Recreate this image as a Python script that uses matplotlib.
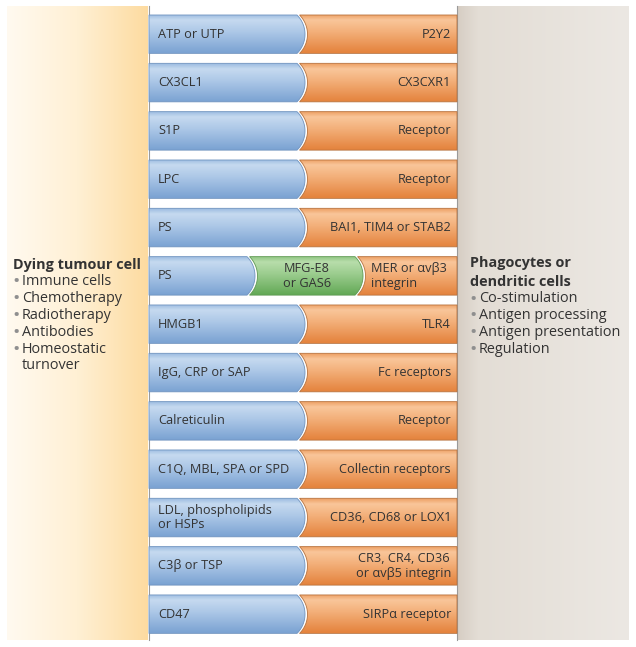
import numpy as np
import matplotlib
matplotlib.use("Agg")
import matplotlib.pyplot as plt
from matplotlib.path import Path
from matplotlib.patches import PathPatch
from matplotlib.colors import LinearSegmentedColormap

plt.rcParams['font.family'] = ['Open Sans', 'DejaVu Sans']

# ---- data ----
ligands = ["ATP or UTP", "CX3CL1", "S1P", "LPC", "PS", "PS", "HMGB1",
           "IgG, CRP or SAP", "Calreticulin", "C1Q, MBL, SPA or SPD",
           "LDL, phospholipids\nor HSPs", "C3β or TSP", "CD47"]
bridges = ["", "", "", "", "", "MFG-E8\nor GAS6", "", "", "", "", "", "", ""]
receptors = ["P2Y2", "CX3CXR1", "Receptor", "Receptor", "BAI1, TIM4 or STAB2",
             "MER or αvβ3\nintegrin", "TLR4", "Fc receptors", "Receptor",
             "Collectin receptors", "CD36, CD68 or LOX1",
             "CR3, CR4, CD36\nor αvβ5 integrin", "SIRPα receptor"]
left_title = "Dying tumour cell"
left_items = ["Immune cells", "Chemotherapy", "Radiotherapy", "Antibodies",
              "Homeostatic\nturnover"]
right_title = "Phagocytes or\ndendritic cells"
right_items = ["Co-stimulation", "Antigen processing", "Antigen presentation",
               "Regulation"]

W, H = 636, 647
fig = plt.figure(figsize=(W / 100, H / 100), dpi=100)
ax = fig.add_axes([0, 0, 1, 1])
ax.set_xlim(0, W)
ax.set_ylim(H, 0)
ax.axis('off')

TXT = '#333333'
BFS = 9.2    # bar label font size
SFS = 10.4   # side text font size


def cmap_of(stops):
    return LinearSegmentedColormap.from_list('c', stops)


def grad(extent, stops, patch=None, horizontal=False, z=1):
    if horizontal:
        arr = np.linspace(0, 1, 256).reshape(1, -1)
    else:
        arr = np.linspace(0, 1, 256).reshape(-1, 1)
    x0, x1, y0, y1 = extent
    im = ax.imshow(arr, cmap=cmap_of(stops), extent=(x0, x1, y1, y0),
                   aspect='auto', origin='upper', zorder=z,
                   interpolation='bilinear')
    if patch is not None:
        im.set_clip_path(patch)
    return im


# ---- side panels ----
PT, PB = 6, 640
grad((7, 148, PT, PB), [(0, '#fffaf0'), (0.5, '#fff0d4'), (1, '#fddba0')],
     horizontal=True, z=0)
grad((457, 629, PT, PB), [(0, '#d6cdc3'), (0.12, '#e3ddd5'), (1, '#ece8e3')],
     horizontal=True, z=0)
ax.plot([148.5, 148.5], [PT, PB], color='#9a9a9a', lw=0.8, zorder=0.5)
ax.plot([457, 457], [PT, PB], color='#9a9a9a', lw=0.8, zorder=0.5)

# ---- bar shapes ----
X0, X1 = 149, 457
TOP0, STEP, BH = 15, 48.33, 38.5
BULGE, GAP = 8, 2.5

BLUE = [(0, '#98b9df'), (0.15, '#c6daf0'), (0.45, '#adc8e7'), (1, '#7aa2d2')]
ORANGE = [(0, '#ec9c5f'), (0.15, '#f9c69a'), (0.45, '#f3b07a'), (1, '#e4823c')]
GREEN = [(0, '#8cc47f'), (0.15, '#b8ddab'), (0.45, '#9ccd8f'), (1, '#62a855')]


def arc_pts(xe, top, bot, n=30):
    h = bot - top
    R = (h * h / 4 + BULGE * BULGE) / (2 * BULGE)
    cx = xe + BULGE - R
    cy = (top + bot) / 2
    t = np.linspace(-np.arcsin(h / 2 / R), np.arcsin(h / 2 / R), n)
    return cx + R * np.cos(t), cy + R * np.sin(t)


def shape(xl, xr, top, bot, left_concave, right_convex):
    verts = []
    if left_concave:
        ax_, ay_ = arc_pts(xl, top, bot)
        verts += list(zip(ax_, ay_))
    else:
        verts += [(xl, top), (xl, bot)]
    if right_convex:
        ax_, ay_ = arc_pts(xr, top, bot)
        verts += list(zip(ax_[::-1], ay_[::-1]))
    else:
        verts += [(xr, bot), (xr, top)]
    verts.append(verts[0])
    codes = [Path.MOVETO] + [Path.LINETO] * (len(verts) - 2) + [Path.CLOSEPOLY]
    return Path(verts, codes)


def draw_shape(path, stops, edge, top, bot, xl, xr):
    p = PathPatch(path, facecolor='none', edgecolor=edge, lw=0.6, zorder=3)
    ax.add_patch(p)
    grad((xl, xr + BULGE + 1, top, bot), stops, patch=p, z=2)
    return p


for i, (lig, br, rec) in enumerate(zip(ligands, bridges, receptors)):
    top = TOP0 + i * STEP
    bot = top + BH
    mid = (top + bot) / 2
    kw = dict(va='center', fontsize=BFS, color=TXT, zorder=5, linespacing=1.15)
    if br:
        xb, xg = 247, 355
        draw_shape(shape(X0, xb, top, bot, False, True), BLUE, '#6f93bf',
                   top, bot, X0, xb)
        draw_shape(shape(xb + GAP, xg, top, bot, True, True), GREEN, '#5f9a53',
                   top, bot, xb + GAP, xg)
        draw_shape(shape(xg + GAP, X1, top, bot, True, False), ORANGE,
                   '#b8733f', top, bot, xg + GAP, X1)
        ax.text(158, mid, lig, ha='left', **kw)
        ax.text(307, mid, br, ha='center', **kw)
        ax.text(371, mid, rec, ha='left', **kw)
    else:
        xb = 297
        draw_shape(shape(X0, xb, top, bot, False, True), BLUE, '#6f93bf',
                   top, bot, X0, xb)
        draw_shape(shape(xb + GAP, X1, top, bot, True, False), ORANGE,
                   '#b8733f', top, bot, xb + GAP, X1)
        ax.text(158, mid, lig, ha='left', **kw)
        ax.text(451, mid, rec, ha='right', multialignment='center', **kw)

# ---- side texts ----
LS = 16.8
BUL = dict(ha='center', va='center', fontsize=SFS * 1.35, color='#8f8f8f')
ax.text(13, 265, left_title, ha='left', va='center', fontsize=SFS,
        fontweight='bold', color=TXT)
y = 265 + LS
for item in left_items:
    ax.text(16.5, y + 0.5, '•', **BUL)
    lines = item.split('\n')
    for j, ln in enumerate(lines):
        ax.text(22, y + j * LS, ln, ha='left', va='center', fontsize=SFS,
                color=TXT)
    y += LS * len(lines)

ax.text(470, 263, right_title.split('\n')[0], ha='left', va='center',
        fontsize=SFS, fontweight='bold', color=TXT)
ax.text(470, 282, right_title.split('\n')[1], ha='left', va='center',
        fontsize=SFS, fontweight='bold', color=TXT)
y = 299
for item in right_items:
    ax.text(473.5, y + 0.5, '•', **BUL)
    ax.text(479, y, item, ha='left', va='center', fontsize=SFS, color=TXT)
    y += LS

fig.savefig('out.png', dpi=100)
